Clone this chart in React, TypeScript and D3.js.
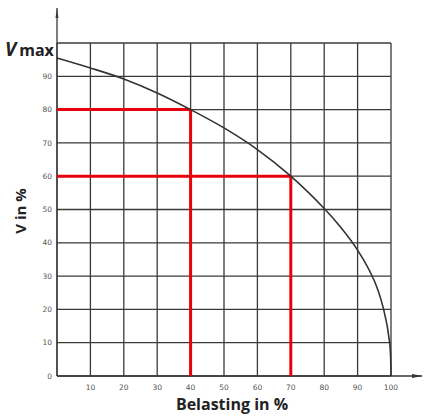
import { useEffect, useRef } from 'react';
import * as d3 from 'd3';

// belasting (%) -> Vmax (%)
const load = [0, 10, 20, 30, 40, 50, 60, 70, 80, 85, 90, 95, 97.8, 99.6, 100];
const vmax = [95.5, 92.5, 89.2, 85, 80, 74.5, 68, 60, 50.3, 44.6, 37.8, 28.6, 20, 10, 0];

const gridTicks = [0, 10, 20, 30, 40, 50, 60, 70, 80, 90, 100];
const yTickLabels = [0, 10, 20, 30, 40, 50, 60, 70, 80, 90];
const xTickLabels = [10, 20, 30, 40, 50, 60, 70, 80, 90, 100];

// red reading lines: [load, vmax]
const readings: [number, number][] = [[40, 80], [70, 60]];

export default function App() {
  const svgRef = useRef<SVGSVGElement>(null);

  useEffect(() => {
    document.body.style.margin = '0';
    if (!svgRef.current) return;
    const svg = d3.select(svgRef.current);
    svg.selectAll('*').remove();

    const x = d3.scaleLinear().domain([0, 100]).range([57, 391]);
    const y = d3.scaleLinear().domain([0, 100]).range([376, 43]);

    const grid = svg.append('g').attr('stroke', '#3a3a3a').attr('stroke-width', 1.3);
    gridTicks.forEach(t => {
      grid.append('line').attr('x1', x(t)).attr('x2', x(t)).attr('y1', y(0)).attr('y2', y(100));
      grid.append('line').attr('x1', x(0)).attr('x2', x(100)).attr('y1', y(t)).attr('y2', y(t));
    });

    // axes with arrows
    svg.append('line')
      .attr('x1', x(0)).attr('x2', x(0)).attr('y1', y(0)).attr('y2', 8)
      .attr('stroke', '#3a3a3a').attr('stroke-width', 1.3);
    svg.append('path')
      .attr('d', `M${x(0) - 1.5},18 L${x(0)},8 L${x(0) + 1.5},18 Z`)
      .attr('fill', '#3a3a3a');
    svg.append('line')
      .attr('x1', x(0)).attr('x2', 422).attr('y1', y(0)).attr('y2', y(0))
      .attr('stroke', '#3a3a3a').attr('stroke-width', 1.3);
    svg.append('path')
      .attr('d', `M412,${y(0) - 2} L423,${y(0)} L412,${y(0) + 2} Z`)
      .attr('fill', '#3a3a3a');

    // red readings
    const red = svg.append('g').attr('stroke', '#e8000b').attr('stroke-width', 3);
    readings.forEach(([l, v]) => {
      red.append('line').attr('x1', x(0)).attr('x2', x(l)).attr('y1', y(v)).attr('y2', y(v));
      red.append('line').attr('x1', x(l)).attr('x2', x(l)).attr('y1', y(v)).attr('y2', y(0));
    });

    // curve
    const pts = load.map((l, i) => [l, vmax[i]] as [number, number]);
    const curve = d3.line<[number, number]>()
      .x(d => x(d[0]))
      .y(d => y(d[1]))
      .curve(d3.curveCatmullRom.alpha(0.5));
    svg.append('path')
      .datum(pts)
      .attr('d', curve)
      .attr('fill', 'none')
      .attr('stroke', '#333')
      .attr('stroke-width', 1.6)
      .attr('stroke-linejoin', 'round');

    // tick labels
    svg.append('g').selectAll('text')
      .data(yTickLabels)
      .enter()
      .append('text')
      .attr('x', 52)
      .attr('y', d => y(d))
      .attr('dy', '0.35em')
      .attr('text-anchor', 'end')
      .attr('font-family', 'DejaVu Sans')
      .attr('font-size', 7.5)
      .attr('fill', '#555')
      .text(d => d);

    svg.append('g').selectAll('text')
      .data(xTickLabels)
      .enter()
      .append('text')
      .attr('x', d => x(d))
      .attr('y', 387)
      .attr('dy', '0.35em')
      .attr('text-anchor', 'middle')
      .attr('font-family', 'DejaVu Sans')
      .attr('font-size', 7.5)
      .attr('fill', '#555')
      .text(d => d);

    // titles
    const vm = svg.append('text')
      .attr('x', 5).attr('y', 56)
      .attr('font-family', 'Open Sans').attr('font-weight', 'bold')
      .attr('font-size', 16).attr('fill', '#222');
    vm.append('tspan').attr('font-style', 'italic').attr('font-size', 19).text('V');
    vm.append('tspan').attr('dx', 3).text('max');

    svg.append('text')
      .attr('transform', 'translate(26,211) rotate(-90)')
      .attr('text-anchor', 'middle')
      .attr('font-family', 'Open Sans').attr('font-weight', 'bold')
      .attr('font-size', 15).attr('fill', '#222')
      .text('V in %');

    svg.append('text')
      .attr('x', 232).attr('y', 410)
      .attr('text-anchor', 'middle')
      .attr('font-family', 'Open Sans').attr('font-weight', 'bold')
      .attr('font-size', 16).attr('fill', '#222')
      .text('Belasting in %');
  }, []);

  return <svg ref={svgRef} width={425} height={416} style={{ display: 'block', background: '#fff' }} />;
}
